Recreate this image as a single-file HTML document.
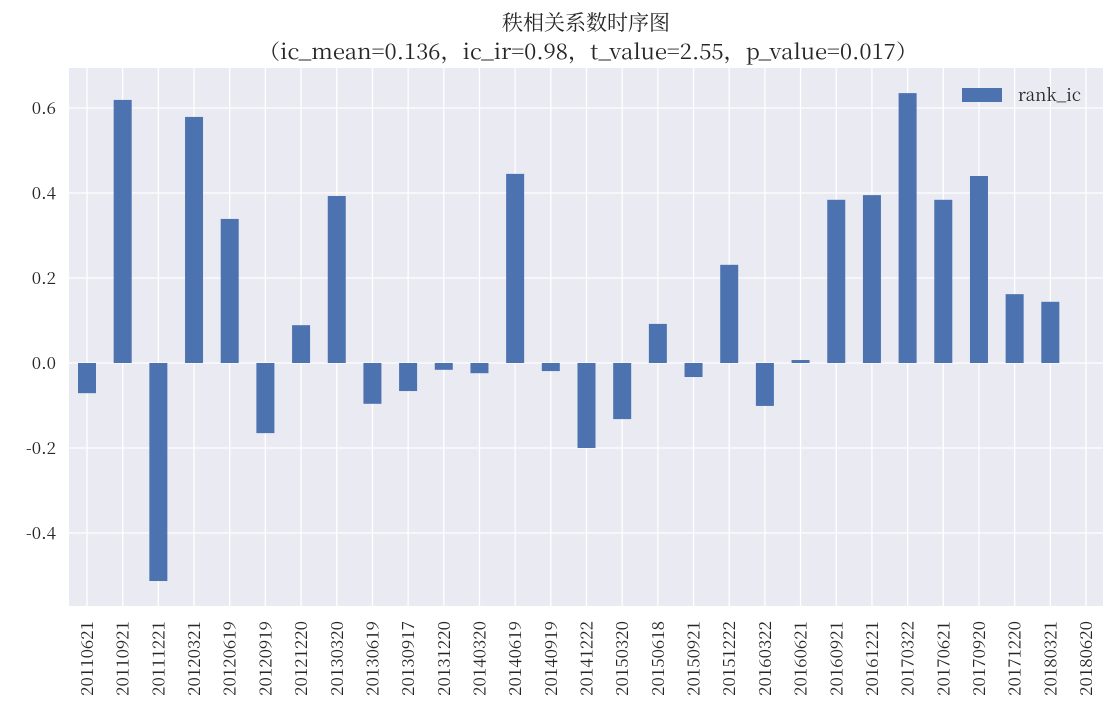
<!DOCTYPE html>
<html><head><meta charset="utf-8"><style>
body{margin:0;background:#fff;}
svg text{font-family:"Noto Serif CJK SC","Liberation Serif",serif;fill:#262626;}
</style></head><body>
<svg id="chart" width="1116" height="711">
<text x="586" y="30" text-anchor="middle" font-size="21">秩相关系数时序图</text>
<text x="258" y="59" font-size="21" textLength="660" lengthAdjust="spacingAndGlyphs">（ic_mean=0.136，ic_ir=0.98，t_value=2.55，p_value=0.017）</text>
<rect x="69" y="68" width="1034" height="538" fill="#eaeaf2"/>
<g id="grid"></g><g id="bars"></g><g id="ylabels"></g><g id="xlabels"></g>
<g>
<rect x="962" y="88" width="40" height="14" fill="#4c72b0"/>
<text x="1018" y="101" font-size="17">rank_ic</text>
</g>
</svg>
<script>
const categories=["20110621","20110921","20111221","20120321","20120619","20120919","20121220","20130320","20130619","20130917","20131220","20140320","20140619","20140919","20141222","20150320","20150618","20150921","20151222","20160322","20160621","20160921","20161221","20170322","20170621","20170920","20171220","20180321","20180620"];
const values=[-0.071,0.619,-0.513,0.579,0.339,-0.165,0.089,0.393,-0.096,-0.066,-0.016,-0.024,0.445,-0.019,-0.2,-0.132,0.092,-0.033,0.231,-0.101,0.007,0.384,0.395,0.635,0.384,0.44,0.162,0.144,null];
const yTicks=[-0.4,-0.2,0.0,0.2,0.4,0.6];
const NS="http://www.w3.org/2000/svg";
const L=69,R=1103,T=68,B=606;
const x=i=>87+i*(1086-87)/(categories.length-1);
const y=v=>363-v*425;
function mk(tag,attrs,parent){const e=document.createElementNS(NS,tag);for(const k in attrs)e.setAttribute(k,attrs[k]);document.getElementById(parent).appendChild(e);return e;}
yTicks.forEach(v=>{
 const g=mk('line',{x1:L,x2:R,y1:y(v),y2:y(v),stroke:'#fff','stroke-width':1.3},'grid');
 
 
 const t=mk('text',{x:56,y:y(v)+6,'text-anchor':'end','font-size':17},'ylabels');
 t.textContent=v.toFixed(1);
 
 
});
categories.forEach((c,i)=>{
 const g=mk('line',{x1:x(i),x2:x(i),y1:T,y2:B,stroke:'#fff','stroke-width':1.3},'grid');
 
 
 const v=values[i];
 if(v!==null){
  const r=mk('rect',{x:x(i)-9,width:18,y:Math.min(y(v),y(0)),height:Math.abs(y(v)-y(0)),fill:'#4c72b0'},'bars');
  
  
 }
 const t=mk('text',{x:0,y:0,'text-anchor':'end','font-size':17,transform:`translate(${x(i)+6},621) rotate(-90)`},'xlabels');
 t.textContent=c;
 
 
});
</script>
</body></html>
